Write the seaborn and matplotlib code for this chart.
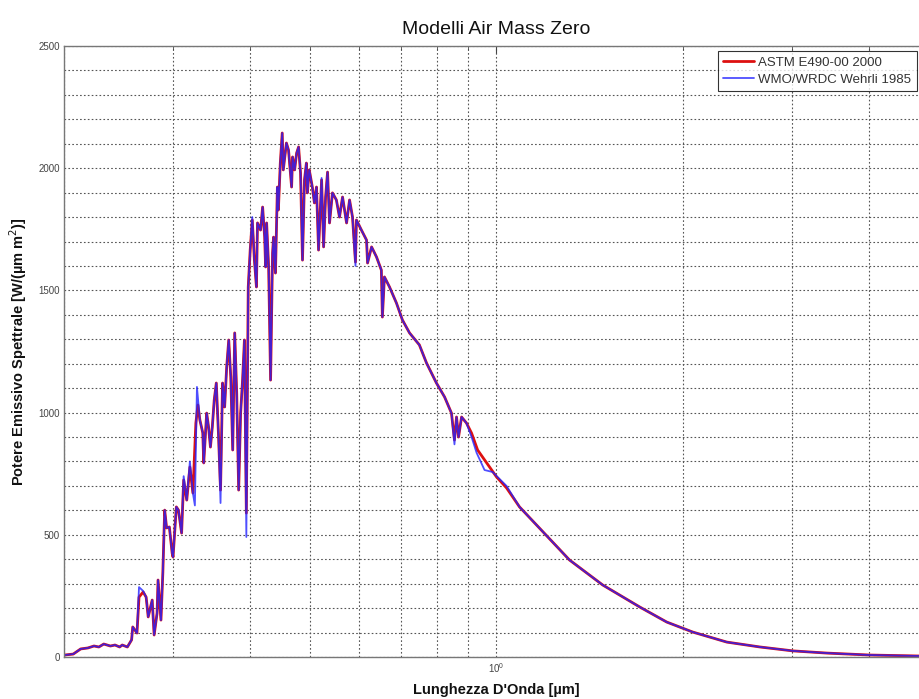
import numpy as np
import pandas as pd
import matplotlib
matplotlib.use("Agg")
import matplotlib.pyplot as plt
import seaborn as sns
from matplotlib.ticker import LogLocator, MultipleLocator, NullFormatter

# ---- data (wavelength in µm, irradiance in W/(µm m^2)) ----
red_wl = [0.2004, 0.2070, 0.2128, 0.2186, 0.2236, 0.2277, 0.2319, 0.2377, 0.2418, 0.2460, 0.2484, 0.2532,
          0.2572, 0.2583, 0.2624, 0.2644, 0.2685, 0.2715, 0.2736, 0.2777, 0.2797, 0.2828, 0.2838, 0.2869,
          0.2889, 0.2909, 0.2930, 0.2960, 0.2991, 0.3001,
          0.3038, 0.3062, 0.3098, 0.3122, 0.3158, 0.3195, 0.3231, 0.3267, 0.3292, 0.3316, 0.3352, 0.3364,
          0.3401, 0.3425, 0.3449, 0.3473, 0.3498, 0.3525, 0.3553, 0.3581,
          0.3608, 0.3636, 0.3664, 0.3692, 0.3720, 0.3747, 0.3775, 0.3803, 0.3831, 0.3859, 0.3887, 0.3914,
          0.3942, 0.3970, 0.3999, 0.4030, 0.4062, 0.4093, 0.4109, 0.4156,
          0.4188, 0.4220, 0.4235, 0.4251, 0.4283, 0.4314, 0.4346, 0.4362, 0.4393, 0.4425, 0.4441, 0.4473,
          0.4505, 0.4523, 0.4576, 0.4612, 0.4665, 0.4682, 0.4718, 0.4753,
          0.4788, 0.4823, 0.4858, 0.4894, 0.4929, 0.4947, 0.4982, 0.5039, 0.5078, 0.5118, 0.5157, 0.5216,
          0.5255, 0.5294, 0.5333, 0.5372, 0.5431, 0.5511, 0.5575, 0.5639,
          0.5724, 0.5788, 0.5852, 0.5917, 0.5938, 0.6049, 0.6165, 0.6189, 0.6282, 0.6398, 0.6515, 0.6540,
          0.6590, 0.6716, 0.6892, 0.7046, 0.7235, 0.7505, 0.7707, 0.7997,
          0.8243, 0.8457, 0.8552, 0.8618, 0.8683, 0.8781, 0.8944, 0.9114, 0.9321, 0.9641, 1.0000, 1.0380,
          1.0895, 1.198, 1.312, 1.484, 1.703, 1.884, 2.076, 2.356,
          2.665, 3.013, 3.420, 4.014, 4.836]
red_val = [8, 12, 33, 37, 45, 41, 53, 45, 49, 41, 49, 41,
           70, 123, 98, 245, 266, 245, 164, 233, 90, 180, 315, 151, 344, 601, 528, 532, 425, 409,
           614, 601, 507, 724, 642, 777, 671, 957, 1031, 970, 917, 794, 998, 941, 859, 941, 1052, 1121, 916, 683,
           1121, 1023, 1187, 1297, 1146, 847, 1326, 1080, 683, 998, 1133, 1297, 589, 1514, 1665, 1788, 1624, 1514, 1776, 1747,
           1841, 1718, 1596, 1776, 1596, 1133, 1653, 1718, 1571, 1923, 1829, 2021, 2144, 1993, 2103, 2074, 1923, 2046, 1993, 2062,
           2087, 1980, 1624, 1952, 2021, 1899, 1993, 1923, 1858, 1923, 1665, 1952, 1678, 1882, 1984, 1776, 1899, 1870, 1800, 1882,
           1776, 1870, 1800, 1616, 1788, 1747, 1706, 1612, 1678, 1637, 1583, 1391, 1555, 1514, 1448, 1379, 1326, 1277, 1203, 1121,
           1064, 998, 888, 982, 900, 982, 957, 916, 847, 794, 737, 692, 614, 503, 397, 295, 205, 143, 102, 61,
           41, 25, 16, 8, 4]

blue_wl = [0.2004, 0.2070, 0.2128, 0.2186, 0.2236, 0.2277, 0.2319, 0.2377, 0.2418, 0.2460, 0.2484, 0.2532,
           0.2572, 0.2583, 0.2624, 0.2644, 0.2685, 0.2715, 0.2736, 0.2777, 0.2797, 0.2828, 0.2838, 0.2869,
           0.2889, 0.2909, 0.2930, 0.2960, 0.2991, 0.3001,
           0.3038, 0.3062, 0.3098, 0.3122, 0.3158, 0.3195, 0.3231, 0.3255, 0.3280, 0.3316, 0.3352, 0.3364,
           0.3401, 0.3425, 0.3449, 0.3473, 0.3498, 0.3525, 0.3553, 0.3581,
           0.3608, 0.3636, 0.3664, 0.3692, 0.3720, 0.3747, 0.3775, 0.3803, 0.3831, 0.3859, 0.3887, 0.3914,
           0.3942, 0.3970, 0.3999, 0.4030, 0.4062, 0.4093, 0.4109, 0.4156,
           0.4188, 0.4220, 0.4235, 0.4251, 0.4283, 0.4314, 0.4346, 0.4362, 0.4393, 0.4425, 0.4441, 0.4473,
           0.4505, 0.4523, 0.4576, 0.4612, 0.4665, 0.4682, 0.4718, 0.4753,
           0.4788, 0.4823, 0.4858, 0.4894, 0.4929, 0.4947, 0.4982, 0.5039, 0.5078, 0.5118, 0.5157, 0.5216,
           0.5255, 0.5294, 0.5333, 0.5372, 0.5431, 0.5511, 0.5575, 0.5639,
           0.5724, 0.5788, 0.5852, 0.5917, 0.5938, 0.6049, 0.6165, 0.6189, 0.6282, 0.6398, 0.6515, 0.6540,
           0.6590, 0.6716, 0.6892, 0.7046, 0.7235, 0.7505, 0.7707, 0.7997,
           0.8243, 0.8457, 0.8552, 0.8618, 0.8683, 0.8781, 0.8944, 0.9114, 0.9288, 0.9565, 0.9855, 1.0380,
           1.0895, 1.198, 1.312, 1.484, 1.703, 1.884, 2.076, 2.356,
           2.665, 3.013, 3.420, 4.014, 4.836]
blue_val = [8, 12, 33, 37, 45, 41, 53, 45, 49, 41, 49, 41,
            70, 123, 98, 286, 270, 245, 164, 233, 90, 180, 315, 151, 344, 601, 528, 532, 425, 409,
            614, 601, 507, 740, 642, 800, 671, 620, 1105, 970, 917, 794, 998, 941, 859, 941, 1052, 1121, 916, 630,
            1121, 1023, 1187, 1297, 1146, 847, 1326, 1080, 683, 998, 1133, 1297, 491, 1514, 1665, 1800, 1624, 1514, 1776, 1747,
            1841, 1718, 1596, 1776, 1596, 1133, 1653, 1718, 1571, 1923, 1829, 2021, 2144, 1993, 2103, 2074, 1923, 2046, 1993, 2062,
            2087, 1980, 1624, 1952, 2021, 1899, 1993, 1923, 1858, 1923, 1665, 1960, 1678, 1882, 1984, 1776, 1899, 1870, 1800, 1882,
            1776, 1870, 1800, 1600, 1788, 1747, 1706, 1612, 1678, 1637, 1583, 1391, 1555, 1514, 1448, 1379, 1326, 1277, 1203, 1121,
            1064, 998, 870, 982, 900, 982, 957, 900, 835, 765, 757, 700, 614, 503, 397, 295, 205, 143, 102, 61,
            41, 25, 16, 8, 4]

series_names = ["ASTM E490-00 2000", "WMO/WRDC Wehrli 1985"]

# ---- figure ----
sns.set_theme(style="white")
plt.rcParams['font.family'] = ['Liberation Sans', 'DejaVu Sans']

fig = plt.figure(figsize=(9.2, 6.99), dpi=100)
ax = fig.add_axes([64/920, 1 - 657/699, (929 - 64)/920, (657 - 46)/699])

df_red = pd.DataFrame({"wl": red_wl, "val": red_val})
df_blue = pd.DataFrame({"wl": blue_wl, "val": blue_val})

sns.lineplot(data=df_red, x="wl", y="val", ax=ax, color="#dd1010", lw=2.0,
             estimator=None, sort=False, label=series_names[0])
sns.lineplot(data=df_blue, x="wl", y="val", ax=ax, color="#2222ff", lw=1.3, alpha=0.8,
             estimator=None, sort=False, label=series_names[1])

ax.set_xscale("log")
ax.set_xlim(0.2, 5)
ax.set_ylim(0, 2500)
ax.yaxis.set_major_locator(MultipleLocator(500))
ax.yaxis.set_minor_locator(MultipleLocator(100))
ax.xaxis.set_major_locator(LogLocator(base=10, numticks=10))
ax.xaxis.set_minor_locator(LogLocator(base=10, subs=np.arange(2, 10), numticks=30))
ax.xaxis.set_minor_formatter(NullFormatter())

ax.grid(True, which="both", axis="both", linestyle=(0, (1.5, 2.0)), color="#555555", lw=0.8)
ax.tick_params(which="both", direction="in", top=True, right=False, labelsize=7,
               colors="#444444", pad=3)
ax.tick_params(which="major", length=5, width=0.8)
ax.tick_params(which="minor", length=3, width=0.6)

for side, sp in ax.spines.items():
    sp.set_color("#777777")
    sp.set_linewidth(1.0)
ax.spines["right"].set_visible(False)

ax.set_title("Modelli Air Mass Zero", fontsize=14, pad=9, color="#111111")
ax.set_xlabel("Lunghezza D'Onda [µm]", fontsize=10.5, fontweight="bold", color="#111111")
ax.set_ylabel("Potere Emissivo Spettrale [W/(µm m$^{2}$)]", fontsize=10.5, fontweight="bold",
              color="#111111")
ax.xaxis.set_label_coords(0.5, -0.042)
ax.yaxis.set_label_coords(-0.04, 0.5)

leg = ax.legend(loc="upper left", bbox_to_anchor=(718/920, 1 - 51/699), bbox_transform=fig.transFigure,
                frameon=True, fancybox=False, edgecolor="black", fontsize=9.5, handlelength=2.3,
                borderpad=0.4, labelspacing=0.4, handletextpad=0.35, borderaxespad=0)
leg.get_frame().set_linewidth(0.8)
for t in leg.get_texts():
    t.set_color("#333333")

fig.savefig("out.png", dpi=100)
